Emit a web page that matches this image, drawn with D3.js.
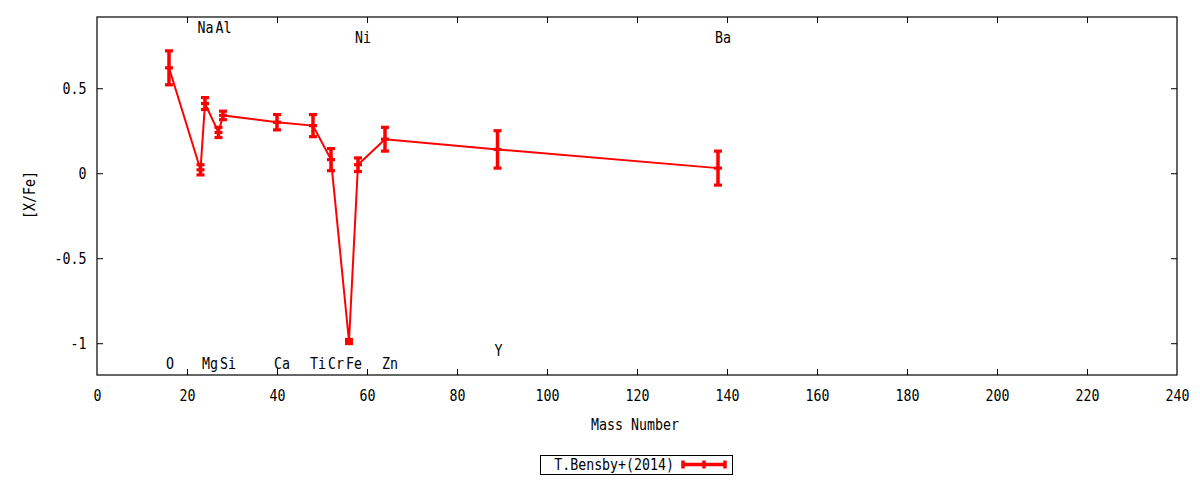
<!DOCTYPE html>
<html>
<head>
<meta charset="utf-8">
<script src="https://cdn.jsdelivr.net/npm/d3@7"></script>
<style>
  html, body { margin: 0; padding: 0; background: #fff; }
  svg text { font-family: "DejaVu Sans Mono", monospace; font-size: 16px; fill: #000; }
</style>
</head>
<body>
<svg id="chart" width="1200" height="480"></svg>
<script>
// ---- data ----
const elements = ["O", "Na", "Mg", "Al", "Si", "Ca", "Ti", "Cr", "Fe", "Ni", "Zn", "Y", "Ba"];
const massNumbers = [16, 23, 24, 27, 28, 40, 48, 52, 56, 58, 64, 89, 138];
const xFe = [0.62, 0.02, 0.41, 0.24, 0.34, 0.30, 0.28, 0.08, -0.99, 0.05, 0.20, 0.14, 0.03];
const xFeErr = [0.10, 0.03, 0.035, 0.03, 0.025, 0.045, 0.065, 0.065, 0.012, 0.04, 0.07, 0.11, 0.10];
const labelY = [-1.116, 0.858, -1.116, 0.858, -1.116, -1.116, -1.116, -1.116, -1.116, 0.80, -1.116, -1.04, 0.80];
const xTicks = [0, 20, 40, 60, 80, 100, 120, 140, 160, 180, 200, 220, 240];
const yTicks = [-1, -0.5, 0, 0.5];
const seriesName = "T.Bensby+(2014)";

(function () {
const svg = d3.select("#chart");
const pL = 97, pR = 1177, pT = 17, pB = 375;
const x = d3.scaleLinear().domain([0, 240]).range([pL, pR]);
const y = d3.scaleLinear().domain([-1.187, 0.919]).range([pB, pT]);
const red = "#ff0000";
const tickLen = 6;
const SX = 0.83; // horizontal condensing of the font

function ctext(parent, tx, ty, str, anchor, rot) {
  return parent.append("text")
    .attr("transform", `translate(${tx},${ty})${rot ? " rotate(" + rot + ")" : ""} scale(${SX},1)`)
    .attr("text-anchor", anchor || "start")
    .text(str);
}

// axes with inward ticks
const gx = svg.append("g").attr("transform", `translate(0,${pB})`)
  .call(d3.axisBottom(x).tickValues(xTicks).tickSize(-tickLen).tickPadding(14.3).tickFormat(d3.format("d")));
const gxTop = svg.append("g").attr("transform", `translate(0,${pT})`)
  .call(d3.axisTop(x).tickValues(xTicks).tickSize(-tickLen).tickFormat(""));
const gy = svg.append("g").attr("transform", `translate(${pL},0)`)
  .call(d3.axisLeft(y).tickValues(yTicks).tickSize(-tickLen).tickPadding(10.5).tickFormat(d => String(d)));
const gyR = svg.append("g").attr("transform", `translate(${pR},0)`)
  .call(d3.axisRight(y).tickValues(yTicks).tickSize(-tickLen).tickFormat(""));

[gx, gxTop, gy, gyR].forEach(g => {
  g.select(".domain").remove();
  g.attr("font-family", null).attr("font-size", null);
  g.selectAll("line").attr("stroke", "#000").attr("stroke-width", 1);
  g.selectAll("text").each(function () {
    const t = d3.select(this);
    const ox = +t.attr("x") || 0;
    t.attr("x", ox / SX).attr("transform", `scale(${SX},1)`).attr("fill", "#000");
  });
});
gx.selectAll(".tick").filter(d => d === 0 || d === 240).select("line").remove();
gxTop.selectAll(".tick").filter(d => d === 0 || d === 240).remove();

// border
svg.append("rect").attr("x", pL).attr("y", pT)
  .attr("width", pR - pL).attr("height", pB - pT)
  .attr("fill", "none").attr("stroke", "#000").attr("stroke-width", 1.2);

// axis titles
ctext(svg, 635, 430.3, "Mass Number", "middle");
ctext(svg, 35, 195, "[X/Fe]", "middle", -90);

// data
const data = elements.map((e, i) => ({ el: e, m: massNumbers[i], v: xFe[i], err: xFeErr[i], ly: labelY[i] }));

// connecting line
svg.append("path").datum(data)
  .attr("fill", "none").attr("stroke", red).attr("stroke-width", 2)
  .attr("d", d3.line().x(d => x(d.m)).y(d => y(d.v)));

// error bars
const capW = 4;
const eb = svg.append("g").attr("stroke", red);
data.forEach(d => {
  const cx = x(d.m);
  eb.append("line").attr("x1", cx).attr("x2", cx).attr("y1", y(d.v + d.err)).attr("y2", y(d.v - d.err)).attr("stroke-width", 3.5);
  [d.v + d.err, d.v - d.err, d.v].forEach(v => {
    eb.append("line").attr("x1", cx - capW).attr("x2", cx + capW).attr("y1", y(v)).attr("y2", y(v)).attr("stroke-width", 3.2);
  });
});

// element labels
const lab = svg.append("g");
data.forEach(d => ctext(lab, x(d.m) - 3, y(d.ly) + 5.8, d.el, "start"));

// legend
const lg = svg.append("g");
lg.append("rect").attr("x", 540.5).attr("y", 455.5).attr("width", 192).attr("height", 19)
  .attr("fill", "#fff").attr("stroke", "#000").attr("stroke-width", 1);
ctext(lg, 674, 470, seriesName, "end");
const ly0 = 464.5, lx1 = 683, lx2 = 725;
lg.append("line").attr("x1", lx1).attr("x2", lx2).attr("y1", ly0).attr("y2", ly0).attr("stroke", red).attr("stroke-width", 3.5);
[lx1, lx2, (lx1 + lx2) / 2].forEach(xx => {
  lg.append("line").attr("x1", xx).attr("x2", xx).attr("y1", ly0 - 4).attr("y2", ly0 + 4).attr("stroke", red).attr("stroke-width", 3.5);
});
})();
</script>
</body>
</html>
